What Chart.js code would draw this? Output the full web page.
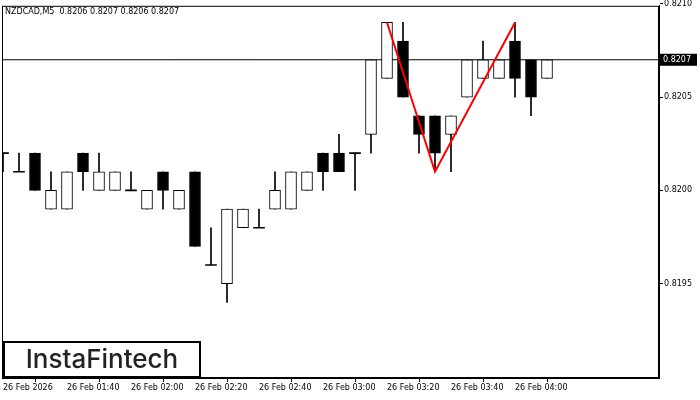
<!DOCTYPE html>
<html><head><meta charset="utf-8">
<script src="https://cdn.jsdelivr.net/npm/chart.js@4"></script>
<style>html,body{margin:0;padding:0;background:#fff}#w{width:700px;height:400px}</style>
</head><body><div id="w"><canvas id="c"></canvas></div>
<script>
const xLabels = ["26 Feb 2026","26 Feb 01:40","26 Feb 02:00","26 Feb 02:20","26 Feb 02:40","26 Feb 03:00","26 Feb 03:20","26 Feb 03:40","26 Feb 04:00"];
const xTickIdx = [0,4,8,12,16,20,24,28,32];
const yTicks = [0.8195,0.8200,0.8205,0.8210];
const open  = [0.8202,0.8201,0.8202,0.8199,0.8199,0.8202,0.8200,0.8200,0.8200,0.8199,0.8201,0.8199,0.8201,0.8196,0.8195,0.8198,0.8198,0.8199,0.8199,0.8200,0.8202,0.8202,0.8202,0.8203,0.8206,0.8208,0.8204,0.8204,0.8203,0.8205,0.8206,0.8206,0.8208,0.8207,0.8206];
const high  = [0.8202,0.8202,0.8202,0.8201,0.8201,0.8202,0.8202,0.8201,0.8201,0.8200,0.8201,0.8200,0.8201,0.8198,0.8199,0.8199,0.8199,0.8201,0.8201,0.8201,0.8202,0.8203,0.8202,0.8207,0.8209,0.8209,0.8204,0.8204,0.8204,0.8207,0.8208,0.8207,0.8209,0.8207,0.8207];
const low   = [0.8201,0.8201,0.8200,0.8199,0.8199,0.8200,0.8200,0.8200,0.8200,0.8199,0.8199,0.8199,0.8197,0.8196,0.8194,0.8198,0.8198,0.8199,0.8199,0.8200,0.8200,0.8201,0.8200,0.8202,0.8206,0.8205,0.8202,0.8201,0.8201,0.8205,0.8206,0.8206,0.8205,0.8204,0.8206];
const close = [0.8202,0.8201,0.8200,0.8200,0.8201,0.8201,0.8201,0.8201,0.8200,0.8200,0.8200,0.8200,0.8197,0.8196,0.8199,0.8199,0.8198,0.8200,0.8201,0.8201,0.8201,0.8201,0.8202,0.8207,0.8209,0.8205,0.8203,0.8202,0.8204,0.8207,0.8207,0.8207,0.8206,0.8205,0.8207];
const patternIdx = [24,27,32];
const patternVal = [0.8209,0.8201,0.8209];
const currentPrice = 0.8207;
const title = "NZDCAD,M5  0.8206 0.8207 0.8206 0.8207";

const half = 0.0000027;
const isDoji = open.map((o,i)=>o===close[i]);
const bodies = open.map((o,i)=>{const c=close[i];return {x:i,y:isDoji[i]?[o-half,o+half]:[Math.min(o,c),Math.max(o,c)]};});
const wicks = open.map((o,i)=>({x:i,y:[low[i],high[i]]}));
const bodyColors = open.map((o,i)=>(close[i]<o||isDoji[i])?'#000':'#fff');
const bodyBorders = isDoji.map(d=>d?0:1);

const overlay = {
  id:'overlay',
  afterDraw(ch){
    const g=ch.ctx, a=ch.chartArea, y=ch.scales.y;
    g.save();
    g.strokeStyle='#000'; g.lineWidth=1;
    g.strokeRect(a.left+0.5,a.top+0.5,a.right-a.left-1,a.bottom-a.top-1);
    g.font='8px "DejaVu Sans"'; g.fillStyle='#000'; g.textBaseline='middle';
    g.fillText(title,5,12);
    const py=y.getPixelForValue(currentPrice);
    g.fillStyle='#000'; g.fillRect(a.right+1,py-6,37,12);
    g.fillStyle='#fff'; g.fillText(currentPrice.toFixed(4),a.right+4,py);
    g.fillStyle='#fff'; g.fillRect(4,342,196,35);
    g.lineWidth=2; g.strokeStyle='#000'; g.strokeRect(4,342,196,35);
    g.fillStyle='#222'; g.font='500 26px Inter'; g.textAlign='center';
    g.fillText('InstaFintech',102,360);
    g.restore();
  }
};

new Chart(document.getElementById('c'),{
  data:{datasets:[
    {type:'line',data:[{x:-2,y:currentPrice},{x:45,y:currentPrice}],borderColor:'#000',borderWidth:1,pointRadius:0,order:5},
    {type:'bar',data:wicks,backgroundColor:'#000',barThickness:1,grouped:false,order:4},
    {type:'bar',data:bodies,backgroundColor:bodyColors,borderColor:'#000',borderWidth:bodyBorders,borderSkipped:false,barThickness:11,grouped:false,order:3},
    {type:'line',data:patternIdx.map((x,i)=>({x,y:patternVal[i]})),borderColor:'#f00',borderWidth:2,pointRadius:0,order:1}
  ]},
  options:{
    responsive:true,maintainAspectRatio:false,animation:false,
    layout:{padding:{left:2,top:0,right:0,bottom:0}},
    plugins:{legend:{display:false},tooltip:{enabled:false}},
    scales:{
      x:{type:'linear',min:-0.0625,max:41,offset:false,
        afterFit:s=>{s.height=22;},
        afterBuildTicks:s=>{s.ticks=xTickIdx.map(v=>({value:v}));},
        grid:{drawOnChartArea:false,drawTicks:true,tickLength:4,color:'#000'},
        border:{color:'#000'},
        ticks:{autoSkip:false,maxRotation:0,align:'start',padding:1,color:'#000',font:{family:'DejaVu Sans',size:8},
          callback:(v)=>xLabels[xTickIdx.indexOf(v)] ?? ''}},
      y:{position:'right',min:0.8210-373/18.6*0.0001,max:0.8210-2/18.6*0.0001,
        afterFit:s=>{s.width=41;},
        afterBuildTicks:s=>{s.ticks=yTicks.map(v=>({value:v}));},
        grid:{drawOnChartArea:false,drawTicks:true,tickLength:4,color:'#000'},
        border:{color:'#000'},
        ticks:{padding:1,color:'#000',font:{family:'DejaVu Sans',size:8},callback:v=>v.toFixed(4)}}
    }
  },
  plugins:[overlay]
});
</script></body></html>
